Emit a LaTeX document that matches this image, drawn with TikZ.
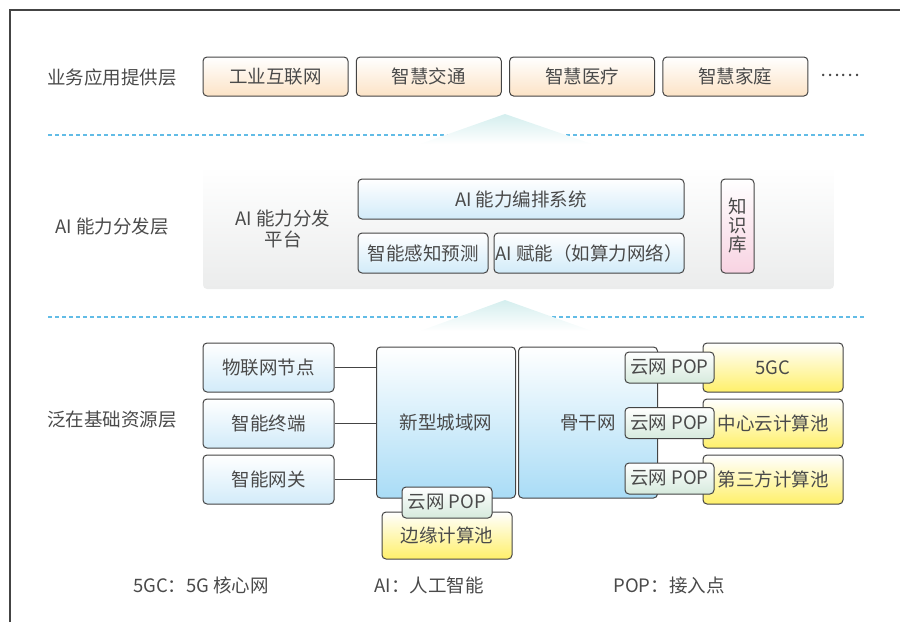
\documentclass[tikz,border=0pt]{standalone}
\usepackage{fontspec}
\setmainfont{Noto Sans CJK SC}
\usepackage{tikz}
\usetikzlibrary{positioning}
\definecolor{textgray}{HTML}{4A4A4A}
\definecolor{edgegray}{HTML}{444444}
\definecolor{peach}{HTML}{FCE3C6}
\definecolor{skyblue}{HTML}{A9DCF6}
\definecolor{paleblue}{HTML}{D2EBF9}
\definecolor{lemon}{HTML}{FFF06A}
\definecolor{mint}{HTML}{D6EADD}
\definecolor{rose}{HTML}{F8D3E2}
\definecolor{dashblue}{HTML}{62BCE6}
\definecolor{teal}{HTML}{D4EEEE}
\definecolor{layergray}{HTML}{EBECEC}
\tikzstyle{basebox} = [
	rectangle,
	rounded corners=4pt,
	draw=edgegray,
	line width=1pt,
	text=textgray,
	text centered,
	inner sep=0pt
]
\tikzstyle{appbox} = [basebox, minimum width=145pt, minimum height=39pt, top color=white, bottom color=peach]
\tikzstyle{aibox} = [basebox, minimum height=40pt, top color=white, bottom color=paleblue]
\tikzstyle{devbox} = [basebox, minimum width=131pt, minimum height=49pt, top color=white, bottom color=paleblue]
\tikzstyle{netbox} = [basebox, minimum width=139pt, minimum height=151pt, top color=white, bottom color=skyblue]
\tikzstyle{poolbox} = [basebox, minimum width=140pt, minimum height=49pt, top color=white, bottom color=lemon]
\tikzstyle{popbox} = [basebox, minimum width=89pt, minimum height=31pt, top color=white, bottom color=mint]
\tikzstyle{layerlabel} = [text=textgray, align=center]
\tikzstyle{layerline} = [dashblue, line width=2pt, dash pattern=on 4pt off 3pt]
\tikzstyle{link} = [edgegray, line width=1.3pt]

\begin{document}
\begin{tikzpicture}[x=1pt, y=-1pt, node distance=7.3pt, font=\fontsize{18.5}{22}\selectfont]
            \useasboundingbox (0,0) rectangle (900,622);
            \draw [edgegray, line width=1.5pt] (10,622) -- (10,10) -- (900,10);
            % business layer
            \node (bizlabel) [layerlabel] at (112,77) {业务应用提供层};
            \node (industry) [appbox] at (275.5,76.5) {工业互联网};
            \node (traffic) [appbox, right=of industry] {智慧交通};
            \node (medical) [appbox, right=of traffic] {智慧医疗};
            \node (home) [appbox, right=of medical] {智慧家庭};
            \node (more) [layerlabel] at (840,75) {……};
            \draw [layerline] (48,135) -- (866,135);
            \shade [top color=teal, bottom color=white] (505,114) -- (592,144) -- (420,144) -- cycle;
            % AI layer
            \shade [rounded corners=4pt, top color=white, bottom color=layergray] (203,166) rectangle (834,289);
            \node (ailabel) [layerlabel] at (112,227) {AI 能力分发层};
            \node (aiplat) [layerlabel] at (283,229) {AI 能力分发\\[-1pt]平台};
            \node (orch) [aibox, minimum width=326pt] at (521,199) {AI 能力编排系统};
            \node (sense) [aibox, minimum width=130pt] at (423,253) {智能感知预测};
            \node (enable) [aibox, minimum width=190pt, right=5pt of sense] {AI 赋能（如算力网络）};
            \node (kb) [basebox, minimum width=33pt, minimum height=94pt, top color=white, bottom color=rose, align=center, font=\fontsize{18.5}{19}\selectfont] at (737.5,226) {知\\识\\库};
            \draw [layerline] (48,317) -- (866,317);
            \shade [top color=teal, bottom color=white] (505,300) -- (592,331) -- (420,331) -- cycle;
            % resource layer
            \node (reslabel) [layerlabel] at (112,420) {泛在基础资源层};
            \node (iot) [devbox] at (268.5,367.5) {物联网节点};
            \node (term) [devbox, below=6pt of iot] {智能终端};
            \node (gate) [devbox, below=6pt of term] {智能网关};
            \node (metro) [netbox] at (446,422.5) {新型城域网};
            \node (backbone) [netbox, right=2pt of metro] {骨干网};
            \draw [link] (iot.east) -- (iot.east -| metro.west);
            \draw [link] (term.east) -- (term.east -| metro.west);
            \draw [link] (gate.east) -- (gate.east -| metro.west);
            \node (edge) [basebox, minimum width=130pt, minimum height=47pt, top color=white, bottom color=lemon] at (447,535.5) {边缘计算池};
            \node (popedge) [popbox, minimum width=90pt] at (447,502.5) {云网 POP};
            \node (core) [poolbox] at (773,367.5) {5GC};
            \node (cloud) [poolbox, below=6pt of core] {中心云计算池};
            \node (third) [poolbox, below=6pt of cloud] {第三方计算池};
            \node (popcore) [popbox] at (669.5,367.5) {云网 POP};
            \node (popcloud) [popbox] at (669.5,423) {云网 POP};
            \node (popthird) [popbox] at (669.5,478.5) {云网 POP};
            % legend
            \node (leg5gc) [layerlabel] at (201,585) {5GC：5G 核心网};
            \node (legai) [layerlabel] at (429,585) {AI：人工智能};
            \node (legpop) [layerlabel] at (669,585) {POP：接入点};
          \end{tikzpicture}
\end{document}
